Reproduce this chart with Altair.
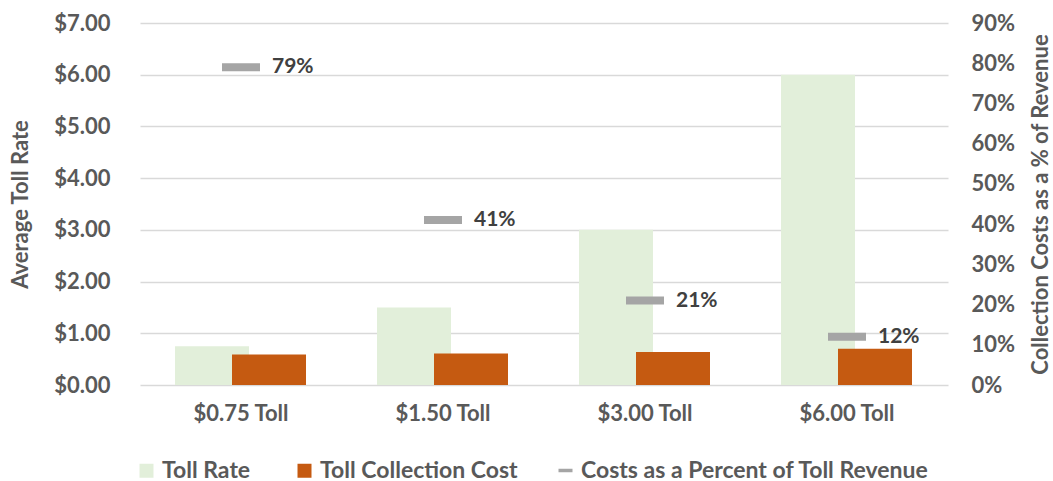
import altair as alt
import pandas as pd

categories = ["$0.75 Toll", "$1.50 Toll", "$3.00 Toll", "$6.00 Toll"]
toll_rate = [0.75, 1.50, 3.00, 6.00]
collection_cost = [0.59, 0.61, 0.64, 0.70]
cost_pct = [0.79, 0.41, 0.21, 0.12]
bar_series = ["Toll Rate", "Toll Collection Cost"]
bar_colors = ["#e2efda", "#c55a11"]
line_series = ["Costs as a Percent of Toll Revenue"]
line_colors = ["#a5a5a5"]
left_ticks = [0, 1, 2, 3, 4, 5, 6, 7]
right_ticks = [0, 0.1, 0.2, 0.3, 0.4, 0.5, 0.6, 0.7, 0.8, 0.9]

df = pd.DataFrame({"category": categories, "rate": toll_rate,
                   "cost": collection_cost, "pct": cost_pct})

FONT = "Lato"
GRAY = "#595959"

x_enc = alt.X("category:N", sort=categories,
              scale=alt.Scale(paddingInner=0, paddingOuter=0),
              axis=alt.Axis(title=None, ticks=False, domain=False, grid=False,
                            labelFont=FONT, labelFontSize=22, labelFontWeight="bold",
                            labelColor=GRAY, labelPadding=18, labelAngle=0))

legend_common = dict(
    orient="none", direction="horizontal", title=None,
    labelFont=FONT, labelFontSize=23, labelFontWeight="bold", labelColor=GRAY,
    labelOffset=4, columnPadding=42, symbolSize=196, symbolStrokeWidth=0,
    padding=0, labelLimit=0,
)
bar_legend = alt.Legend(legendX=-5, legendY=436, symbolType="square", **legend_common)
line_legend = alt.Legend(legendX=414, legendY=436, symbolType="M-1,-0.25H1V0.25H-1Z",
                         **legend_common)

bar_color = alt.Color("series:N", scale=alt.Scale(domain=bar_series, range=bar_colors),
                      legend=bar_legend)
line_color = alt.Color("series:N", scale=alt.Scale(domain=line_series, range=line_colors),
                       legend=line_legend)

left_axis = alt.Axis(title="Average Toll Rate", values=left_ticks, format="$.2f",
                     ticks=False, domain=False, grid=True,
                     gridColor="#d9d9d9", gridWidth=1.5,
                     labelFont=FONT, labelFontSize=22, labelFontWeight="bold",
                     labelColor=GRAY, labelPadding=30,
                     titleFont=FONT, titleFontSize=22, titleFontWeight="bold",
                     titleColor=GRAY, titleX=-120, titleY=181, titleAngle=270,
                     titleBaseline="middle", titleAlign="center")
left_scale = alt.Scale(domain=[0, 7], nice=False)

rate_bars = alt.Chart(df).transform_calculate(series="'Toll Rate'").mark_bar(
    width=74, xOffset=-29).encode(
    x=x_enc,
    y=alt.Y("rate:Q", scale=left_scale, axis=left_axis),
    color=bar_color)

cost_bars = alt.Chart(df).transform_calculate(series="'Toll Collection Cost'").mark_bar(
    width=74, xOffset=28).encode(
    x=x_enc,
    y=alt.Y("cost:Q", scale=left_scale, axis=left_axis),
    color=bar_color)

right_axis = alt.Axis(title="Collection Costs as a % of Revenue", orient="right",
                      values=right_ticks, format=".0%", ticks=False, domain=False,
                      grid=False, labelFont=FONT, labelFontSize=22,
                      labelFontWeight="bold", labelColor=GRAY, labelPadding=23,
                      titleFont=FONT, titleFontSize=22, titleFontWeight="bold",
                      titleColor=GRAY, titleX=92, titleY=181, titleAngle=270,
                      titleBaseline="middle", titleAlign="center")
right_scale = alt.Scale(domain=[0, 0.9], nice=False)

pct_ticks = alt.Chart(df).transform_calculate(
    series="'Costs as a Percent of Toll Revenue'").mark_tick(
    thickness=8, size=38, orient="horizontal", opacity=1).encode(
    x=x_enc,
    y=alt.Y("pct:Q", scale=right_scale, axis=right_axis),
    color=line_color)

pct_text = alt.Chart(df).mark_text(
    align="left", baseline="middle", dx=31, font=FONT, fontSize=21,
    fontWeight="bold", color="#404040").encode(
    x=x_enc,
    y=alt.Y("pct:Q", scale=right_scale, axis=right_axis),
    text=alt.Text("pct:Q", format=".0%"))

chart = alt.layer(
    alt.layer(rate_bars, cost_bars),
    alt.layer(pct_ticks, pct_text),
).resolve_scale(y="independent", color="independent").properties(
    width=808, height=362,
    autosize=alt.AutoSizeParams(type="none"),
    padding={"left": 140, "top": 23, "right": 105, "bottom": 96},
    background="white",
).configure_view(strokeWidth=0)

chart.save("out.html", embed_options={"renderer": "svg", "actions": False})
